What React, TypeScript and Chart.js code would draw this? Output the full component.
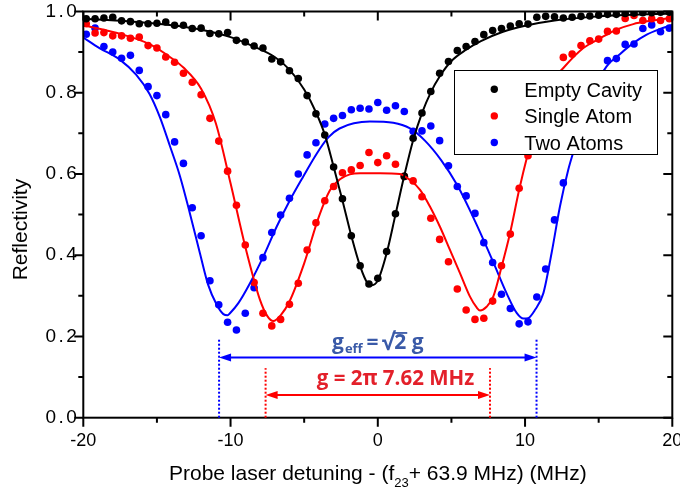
import React, { useEffect, useRef } from 'react';
import { Chart, registerables } from 'chart.js';

Chart.register(...registerables);

// ---------------- data ----------------
const detuning = [
  -19.8, -19.2, -18.6, -18.0, -17.4, -16.8, -16.2, -15.6, -15.0, -14.4, -13.8, -13.2, -12.6, -12.0,
  -11.4, -10.8, -10.2, -9.6, -9.0, -8.4, -7.8, -7.2, -6.6, -6.0, -5.4, -4.8, -4.2, -3.6, -3.0, -2.4,
  -1.8, -1.2, -0.6, 0.0, 0.6, 1.2, 1.8, 2.4, 3.0, 3.6, 4.2, 4.8, 5.4, 6.0, 6.6, 7.2, 7.8, 8.4, 9.0,
  9.6, 10.2, 10.8, 11.4, 12.0, 12.6, 13.2, 13.8, 14.4, 15.0, 15.6, 16.2, 16.8, 17.4, 18.0, 18.6,
  19.2, 19.8,
];

const emptyCavity = [
  0.982, 0.982, 0.984, 0.986, 0.977, 0.975, 0.970, 0.970, 0.971, 0.974, 0.966, 0.966, 0.958, 0.959,
  0.946, 0.945, 0.948, 0.929, 0.925, 0.915, 0.910, 0.883, 0.876, 0.854, 0.835, 0.793, 0.748, 0.696,
  0.617, 0.539, 0.448, 0.374, 0.329, 0.343, 0.409, 0.502, 0.594, 0.688, 0.750, 0.803, 0.848, 0.877,
  0.904, 0.914, 0.926, 0.943, 0.953, 0.958, 0.964, 0.970, 0.969, 0.986, 0.988, 0.987, 0.984, 0.986,
  0.988, 0.989, 0.991, 0.993, 0.993, 0.995, 0.996, 0.997, 0.997, 0.998, 0.998,
];

const singleAtom = [
  0.970, 0.947, 0.948, 0.940, 0.940, 0.934, 0.937, 0.916, 0.910, 0.888, 0.875, 0.848, 0.826, 0.795,
  0.737, 0.681, 0.607, 0.523, 0.425, 0.333, 0.257, 0.226, 0.242, 0.279, 0.331, 0.413, 0.480, 0.534,
  0.569, 0.603, 0.610, 0.621, 0.653, 0.628, 0.645, 0.624, 0.594, 0.583, 0.544, 0.491, 0.439, 0.384,
  0.317, 0.265, 0.242, 0.245, 0.287, 0.374, 0.452, 0.565, 0.645, 0.730, 0.790, 0.840, 0.887, 0.895,
  0.916, 0.928, 0.932, 0.951, 0.952, 0.983, 0.990, 0.978, 0.982, 0.978, 0.982,
];

const twoAtoms = [
  0.944, 0.959, 0.914, 0.900, 0.885, 0.892, 0.855, 0.815, 0.793, 0.746, 0.679, 0.626, 0.517, 0.448,
  0.337, 0.278, 0.235, 0.216, 0.257, 0.320, 0.394, 0.456, 0.499, 0.540, 0.600, 0.647, 0.677, 0.723,
  0.737, 0.744, 0.758, 0.762, 0.760, 0.776, 0.757, 0.768, 0.754, 0.705, 0.706, 0.718, 0.682, 0.620,
  0.569, 0.546, 0.503, 0.431, 0.382, 0.304, 0.269, 0.231, 0.236, 0.297, 0.366, 0.487, 0.578, 0.680,
  0.750, 0.800, 0.840, 0.879, 0.884, 0.919, 0.920, 0.958, 0.967, 0.950, 0.959,
];

// fitted curves
const emptyFitX = [-20, -17, -14, -12, -10, -8.5, -7, -6, -5, -4.2, -3.6, -3.0, -2.4, -1.8, -1.2, -0.7, -0.4, 0, 0.6, 1.2, 1.8, 2.4, 3.0, 3.6, 4.2, 5, 6, 7, 8.5, 10, 12, 15, 20];
const emptyFitY = [0.982, 0.976, 0.966, 0.955, 0.937, 0.915, 0.888, 0.857, 0.808, 0.752, 0.697, 0.618, 0.535, 0.448, 0.373, 0.331, 0.326, 0.338, 0.405, 0.500, 0.596, 0.683, 0.750, 0.801, 0.840, 0.878, 0.906, 0.927, 0.950, 0.965, 0.978, 0.988, 0.995];

const singleFitX = [-20, -17.7, -15.4, -14, -13.2, -12, -11, -10, -9, -8, -7.5, -7.1, -6.6, -6, -5, -4, -3.25, -2.57, -1.9, -1.2, 0.15, 1.5, 2.19, 2.87, 3.54, 4.22, 4.9, 5.58, 6.26, 6.7, 6.94, 7.39, 7.84, 8.41, 8.98, 9.6, 10.2, 11.0, 11.8, 12.6, 13.96, 15.1, 16.2, 17.35, 18.5, 20];
const singleFitY = [0.966, 0.947, 0.918, 0.885, 0.862, 0.81, 0.725, 0.577, 0.421, 0.29, 0.25, 0.238, 0.252, 0.286, 0.38, 0.495, 0.56, 0.587, 0.599, 0.602, 0.602, 0.600, 0.585, 0.561, 0.52, 0.47, 0.413, 0.356, 0.298, 0.272, 0.264, 0.273, 0.298, 0.372, 0.454, 0.561, 0.651, 0.755, 0.825, 0.861, 0.91, 0.934, 0.955, 0.969, 0.977, 0.985];

const twoFitX = [-20, -18.9, -17.5, -16.4, -15.5, -14.8, -14.1, -13.43, -12.76, -12.08, -11.52, -10.94, -10.49, -10.2, -10.04, -9.47, -8.68, -7.77, -6.87, -5.96, -5.06, -4.15, -3.36, -2.6, -0.53, 1.05, 2.19, 3.2, 4.3, 5.4, 6.6, 7.84, 8.75, 9.43, 9.9, 10.2, 10.67, 11.24, 11.8, 12.37, 12.93, 13.39, 14.0, 14.7, 15.54, 16.44, 17.35, 18.26, 19.17, 20];
const twoFitY = [0.936, 0.91, 0.881, 0.844, 0.797, 0.740, 0.667, 0.594, 0.503, 0.405, 0.327, 0.278, 0.255, 0.252, 0.257, 0.282, 0.331, 0.397, 0.47, 0.536, 0.594, 0.650, 0.690, 0.712, 0.729, 0.726, 0.712, 0.682, 0.634, 0.572, 0.484, 0.383, 0.306, 0.258, 0.244, 0.245, 0.265, 0.306, 0.405, 0.52, 0.61, 0.667, 0.74, 0.81, 0.865, 0.895, 0.922, 0.943, 0.957, 0.967];

const seriesLabels = ['Empty Cavity', 'Single Atom', 'Two Atoms'];
const xMajorTicks = [-20, -10, 0, 10, 20];
const xMinorTicks = [-15, -5, 5, 15];
const yMajorTicks = [0, 0.2, 0.4, 0.6, 0.8, 1.0];
const yTickLabels = ['0.0', '0.2', '0.4', '0.6', '0.8', '1.0'];
const yMinorTicks = [0.1, 0.3, 0.5, 0.7, 0.9];

const gCoupling = 7.62; // MHz
const gEffCoupling = 10.78; // MHz (sqrt(2) g)

// ---------------- style ----------------
const BLACK = '#000000';
const RED = '#ff0000';
const BLUE = '#0000ff';
const RED_TEXT = '#e3202a';
const BLUE_TEXT = '#3a5aa8';
const FONT = '"Liberation Sans", Arial, sans-serif';
const ANN_FONT = '"Open Sans", "DejaVu Sans", sans-serif';
const colors = [BLACK, RED, BLUE];

function drawArrow(ctx: CanvasRenderingContext2D, x1: number, x2: number, yp: number, color: string) {
  const head = 12;
  const hw = 4;
  ctx.strokeStyle = color;
  ctx.fillStyle = color;
  ctx.lineWidth = 2;
  ctx.setLineDash([]);
  ctx.beginPath();
  ctx.moveTo(x1 + head - 1, yp);
  ctx.lineTo(x2 - head + 1, yp);
  ctx.stroke();
  ctx.beginPath();
  ctx.moveTo(x1, yp);
  ctx.lineTo(x1 + head, yp - hw);
  ctx.lineTo(x1 + head, yp + hw);
  ctx.closePath();
  ctx.fill();
  ctx.beginPath();
  ctx.moveTo(x2, yp);
  ctx.lineTo(x2 - head, yp - hw);
  ctx.lineTo(x2 - head, yp + hw);
  ctx.closePath();
  ctx.fill();
}

function drawSpaced(ctx: CanvasRenderingContext2D, text: string, rightX: number, yMid: number, gap: number) {
  const chars = text.split('');
  const widths = chars.map((c) => ctx.measureText(c).width);
  const total = widths.reduce((s, w) => s + w, 0) + gap * (chars.length - 1);
  let x = rightX - total;
  ctx.textAlign = 'left';
  ctx.textBaseline = 'middle';
  chars.forEach((c, i) => {
    ctx.fillText(c, x, yMid);
    x += widths[i] + gap;
  });
}

const decorPlugin = {
  id: 'decor',
  afterDatasetsDraw(chart: any) {
    const { ctx, chartArea: a, scales } = chart;
    const xs = scales.x;
    const ys = scales.y;
    ctx.save();

    // frame
    ctx.strokeStyle = BLACK;
    ctx.lineWidth = 2;
    ctx.setLineDash([]);
    ctx.strokeRect(a.left, a.top, a.right - a.left, a.bottom - a.top);

    // ticks
    const major = 9;
    const minor = 5;
    ctx.beginPath();
    const xt = (v: number, len: number) => {
      const px = xs.getPixelForValue(v);
      ctx.moveTo(px, a.bottom);
      ctx.lineTo(px, a.bottom + len);
      ctx.moveTo(px, a.top);
      ctx.lineTo(px, a.top + len);
    };
    const yt = (v: number, len: number) => {
      const py = ys.getPixelForValue(v);
      ctx.moveTo(a.left, py);
      ctx.lineTo(a.left - len, py);
      ctx.moveTo(a.right, py);
      ctx.lineTo(a.right - len, py);
    };
    xMajorTicks.forEach((v) => xt(v, major));
    xMinorTicks.forEach((v) => xt(v, minor));
    yMajorTicks.forEach((v) => yt(v, major));
    yMinorTicks.forEach((v) => yt(v, minor));
    ctx.stroke();

    // y tick labels
    ctx.fillStyle = BLACK;
    ctx.font = `19px ${FONT}`;
    yMajorTicks.forEach((v, i) => {
      drawSpaced(ctx, yTickLabels[i], a.left - 6.5, ys.getPixelForValue(v), 2.5);
    });

    // dotted guide lines
    ctx.lineWidth = 2;
    ctx.setLineDash([2, 2]);
    const y0 = ys.getPixelForValue(0);
    ctx.strokeStyle = BLUE;
    [-gEffCoupling, gEffCoupling].forEach((v) => {
      const px = xs.getPixelForValue(v);
      ctx.beginPath();
      ctx.moveTo(px, y0);
      ctx.lineTo(px, ys.getPixelForValue(0.196));
      ctx.stroke();
    });
    ctx.strokeStyle = RED;
    [-gCoupling, gCoupling].forEach((v) => {
      const px = xs.getPixelForValue(v);
      ctx.beginPath();
      ctx.moveTo(px, y0);
      ctx.lineTo(px, ys.getPixelForValue(0.122));
      ctx.stroke();
    });
    ctx.setLineDash([]);

    // arrows
    drawArrow(ctx, xs.getPixelForValue(-gEffCoupling), xs.getPixelForValue(gEffCoupling), ys.getPixelForValue(0.148), BLUE);
    drawArrow(ctx, xs.getPixelForValue(-gCoupling), xs.getPixelForValue(gCoupling), ys.getPixelForValue(0.056), RED);

    // blue label: g_eff = sqrt(2) g
    {
      const mainF = `bold 21px ${ANN_FONT}`;
      const sqF = `bold 23px ${ANN_FONT}`;
      const subF = `bold 13px ${ANN_FONT}`;
      const by = ys.getPixelForValue(0.168);
      ctx.font = mainF;
      const wg = ctx.measureText('g').width;
      const weq = ctx.measureText('=').width;
      const w2 = ctx.measureText('2').width;
      const wg2 = ctx.measureText(' g').width;
      ctx.font = sqF;
      const wsq = ctx.measureText('\u221A').width;
      ctx.font = subF;
      const we = ctx.measureText('eff').width;
      const total = wg + 1 + we + 4 + weq + 3 + wsq + w2 + wg2;
      let cx = xs.getPixelForValue(0) - total / 2;
      ctx.fillStyle = BLUE_TEXT;
      ctx.textAlign = 'left';
      ctx.textBaseline = 'alphabetic';
      ctx.font = mainF;
      ctx.fillText('g', cx, by);
      cx += wg + 1;
      ctx.font = subF;
      ctx.fillText('eff', cx, by + 4);
      cx += we + 4;
      ctx.font = mainF;
      ctx.fillText('=', cx, by);
      cx += weq + 3;
      ctx.font = sqF;
      ctx.fillText('\u221A', cx, by + 1);
      cx += wsq;
      ctx.font = mainF;
      ctx.fillText('2', cx, by);
      ctx.strokeStyle = BLUE_TEXT;
      ctx.lineWidth = 1.8;
      ctx.beginPath();
      ctx.moveTo(cx - 1.5, by - 16.5);
      ctx.lineTo(cx + w2 + 1, by - 16.5);
      ctx.stroke();
      cx += w2;
      ctx.fillText(' g', cx, by);
    }

    // red label
    ctx.font = `bold 20.5px ${ANN_FONT}`;
    ctx.fillStyle = RED_TEXT;
    ctx.textAlign = 'center';
    ctx.textBaseline = 'alphabetic';
    ctx.fillText('g = 2\u03C0 7.62 MHz', xs.getPixelForValue(1.2), ys.getPixelForValue(0.0805));

    // legend
    const lx = 454;
    const ly = 70;
    const lw = 203;
    const lh = 84;
    ctx.fillStyle = '#ffffff';
    ctx.fillRect(lx, ly, lw, lh);
    ctx.strokeStyle = BLACK;
    ctx.lineWidth = 1;
    ctx.strokeRect(lx + 0.5, ly + 0.5, lw, lh);
    ctx.font = `20px ${FONT}`;
    ctx.textAlign = 'left';
    ctx.textBaseline = 'alphabetic';
    seriesLabels.forEach((lab, i) => {
      const my = 89.3 + i * 26.6;
      ctx.fillStyle = colors[i];
      ctx.beginPath();
      ctx.arc(494.3, my, 3.7, 0, Math.PI * 2);
      ctx.fill();
      ctx.fillStyle = BLACK;
      ctx.fillText(lab, 524.3, my + 7.5);
    });

    // axis titles
    ctx.fillStyle = BLACK;
    ctx.save();
    ctx.translate(27, (a.top + a.bottom) / 2 + 15);
    ctx.rotate(-Math.PI / 2);
    ctx.font = `21px ${FONT}`;
    ctx.textAlign = 'center';
    ctx.textBaseline = 'alphabetic';
    ctx.fillText('Reflectivity', 0, 0);
    ctx.restore();

    {
      const mainF = `21px ${FONT}`;
      const subF = `13px ${FONT}`;
      const p1 = 'Probe laser detuning - (f';
      const p2 = '23';
      const p3 = '+ 63.9 MHz) (MHz)';
      ctx.font = mainF;
      const w1 = ctx.measureText(p1).width;
      const w3 = ctx.measureText(p3).width;
      ctx.font = subF;
      const w2 = ctx.measureText(p2).width;
      const total = w1 + w2 + w3;
      let tx = (a.left + a.right) / 2 - total / 2;
      const ty = 480;
      ctx.textAlign = 'left';
      ctx.textBaseline = 'alphabetic';
      ctx.font = mainF;
      ctx.fillText(p1, tx, ty);
      tx += w1;
      ctx.font = subF;
      ctx.fillText(p2, tx, ty + 7);
      tx += w2;
      ctx.font = mainF;
      ctx.fillText(p3, tx, ty);
    }

    ctx.restore();
  },
};

export default function App() {
  const canvasRef = useRef<HTMLCanvasElement | null>(null);

  useEffect(() => {
    if (!canvasRef.current) return;
    const pts = (ys: number[]) => detuning.map((x, i) => ({ x, y: ys[i] }));
    const fit = (xs: number[], ys: number[]) => xs.map((x, i) => ({ x, y: ys[i] }));
    const lineDs = (label: string, data: any[], color: string) => ({
      label,
      data,
      showLine: true,
      borderColor: color,
      backgroundColor: color,
      borderWidth: 2,
      pointRadius: 0,
      fill: false,
      cubicInterpolationMode: 'monotone' as const,
      order: 0,
    });
    const pointDs = (label: string, data: any[], color: string) => ({
      label,
      data,
      showLine: false,
      backgroundColor: color,
      borderColor: color,
      borderWidth: 0,
      pointRadius: 3.8,
      order: 1,
    });

    const chart = new Chart(canvasRef.current, {
      type: 'scatter',
      data: {
        datasets: [
          lineDs('Empty Cavity fit', fit(emptyFitX, emptyFitY), BLACK),
          lineDs('Single Atom fit', fit(singleFitX, singleFitY), RED),
          lineDs('Two Atoms fit', fit(twoFitX, twoFitY), BLUE),
          pointDs(seriesLabels[0], pts(emptyCavity), BLACK),
          pointDs(seriesLabels[1], pts(singleAtom), RED),
          pointDs(seriesLabels[2], pts(twoAtoms), BLUE),
        ],
      },
      options: {
        animation: false,
        responsive: true,
        maintainAspectRatio: false,
        layout: { padding: { top: 11.5, right: 7.7, left: 0, bottom: 0 } },
        plugins: { legend: { display: false }, tooltip: { enabled: false } },
        scales: {
          x: {
            type: 'linear',
            min: -20,
            max: 20,
            grid: { display: false, drawTicks: false },
            border: { display: false },
            ticks: {
              stepSize: 10,
              padding: 13,
              color: BLACK,
              maxRotation: 0,
              autoSkip: false,
              font: { family: FONT, size: 18 },
              callback: (v: any) => String(v),
            },
            afterFit: (s: any) => {
              s.height = 75.3;
              s.paddingLeft = 0;
              s.paddingRight = 0;
            },
          },
          y: {
            type: 'linear',
            min: 0,
            max: 1,
            grid: { display: false, drawTicks: false },
            border: { display: false },
            ticks: { display: false, stepSize: 0.2 },
            afterFit: (s: any) => {
              s.width = 83.3;
              s.paddingTop = 0;
              s.paddingBottom = 0;
            },
          },
        },
      },
      plugins: [decorPlugin],
    });
    return () => chart.destroy();
  }, []);

  return (
    <div style={{ position: 'fixed', left: 0, top: 0, width: 680, height: 493, background: '#ffffff' }}>
      <canvas ref={canvasRef} />
    </div>
  );
}
